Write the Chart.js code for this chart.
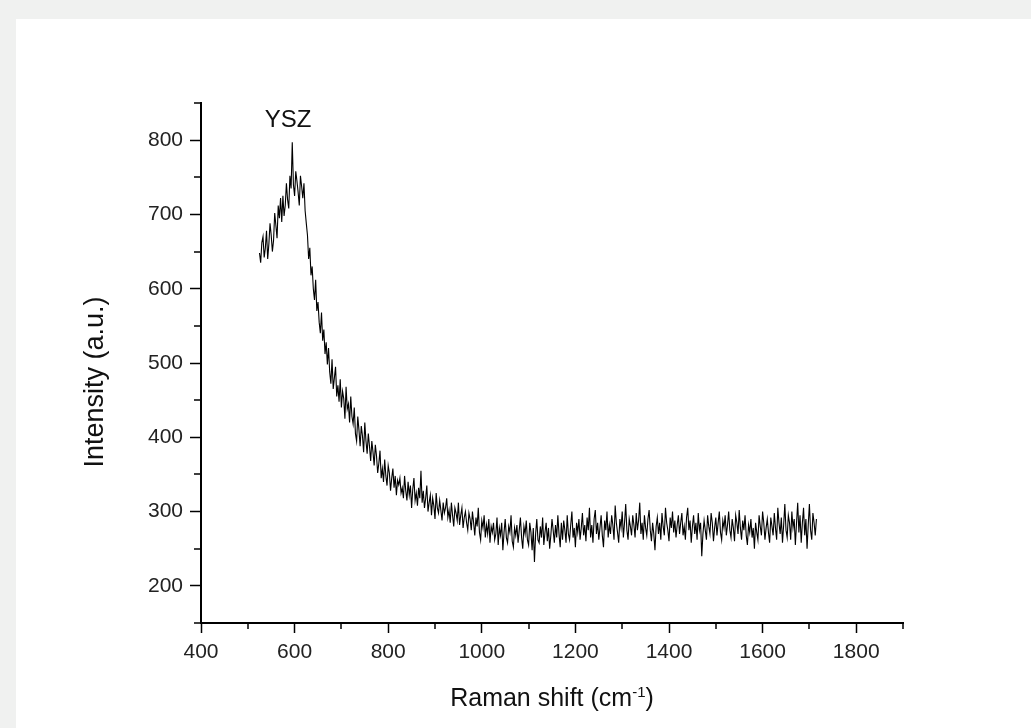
<!DOCTYPE html>
<html>
<head>
<meta charset="utf-8">
<script src="https://cdn.jsdelivr.net/npm/chart.js@4.4.1/dist/chart.umd.min.js"></script>
<style>
  html, body { margin: 0; padding: 0; background: #f0f1f0; overflow: hidden; }
  #panel { position: absolute; left: 16px; top: 19px; width: 1015px; height: 709px; background: #fff; }
  #chart { position: absolute; left: 0; top: 0; }
</style>
</head>
<body>
<div id="panel"></div>
<canvas id="chart" width="1031" height="728"></canvas>
<script>
// spectrum sampled every 2.5 cm-1 from 525 to 1715
const shiftStart = 525;
const shiftStep = 2.5;

// intensity (a.u.), one row per 50 cm-1
const intensity = [
  648, 635, 662, 670, 642, 655, 678, 640, 660, 688, 672, 650, 665, 702, 685, 668, 712, 695, 722, 690,
  725, 698, 712, 742, 720, 708, 752, 735, 797, 740, 725, 758, 745, 730, 712, 752, 738, 722, 742, 705,
  688, 672, 640, 655, 618, 630, 600, 585, 612, 570, 582, 555, 540, 568, 530, 545, 512, 528, 498, 520,
  488, 472, 505, 465, 480, 495, 455, 470, 448, 478, 440, 462, 452, 425, 468, 438, 445, 420, 455, 428,
  418, 440, 405, 395, 428, 410, 388, 415, 402, 380, 420, 395, 378, 405, 388, 368, 395, 380, 362, 390,
  375, 352, 365, 382, 345, 358, 340, 370, 348, 335, 362, 352, 328, 345, 358, 332, 348, 322, 342, 336,
  345, 325, 332, 318, 348, 328, 315, 340, 322, 335, 305, 330, 345, 315, 325, 308, 332, 318, 355, 312,
  328, 305, 318, 335, 300, 312, 322, 295, 318, 308, 290, 325, 305, 298, 315, 302, 288, 312, 298, 305,
  318, 292, 302, 285, 312, 295, 280, 305, 298, 288, 312, 282, 295, 305, 278, 292, 300, 285, 275, 298,
  290, 275, 300, 285, 268, 292, 280, 305, 272, 262, 288, 278, 295, 265, 282, 270, 290, 258, 280, 272,
  285, 262, 270, 292, 255, 278, 268, 285, 248, 272, 290, 265, 258, 280, 272, 295, 260, 252, 278, 268,
  282, 258, 275, 292, 265, 250, 280, 270, 288, 262, 255, 285, 272, 248, 278, 232, 270, 290, 262, 258,
  280, 265, 292, 255, 272, 285, 260, 278, 250, 268, 290, 275, 258, 282, 265, 295, 270, 252, 285, 262,
  288, 275, 258, 295, 270, 262, 282, 300, 265, 278, 252, 285, 272, 290, 262, 278, 298, 268, 282, 260,
  292, 275, 305, 265, 282, 258, 290, 302, 270, 285, 262, 278, 295, 268, 252, 288, 275, 300, 265, 282,
  270, 295, 282, 262, 308, 285, 272, 258, 290, 278, 300, 265, 285, 310, 275, 262, 290, 280, 268, 295,
  282, 265, 298, 275, 288, 312, 270, 285, 262, 295, 278, 268, 290, 302, 275, 260, 285, 270, 248, 280,
  292, 270, 285, 262, 298, 280, 268, 305, 285, 275, 260, 292, 278, 300, 272, 288, 265, 282, 295, 270,
  285, 298, 268, 280, 262, 292, 305, 275, 288, 258, 280, 295, 270, 285, 262, 298, 275, 285, 240, 270,
  288, 275, 262, 295, 280, 270, 298, 285, 260, 278, 292, 268, 285, 300, 272, 262, 288, 278, 295, 268,
  282, 300, 275, 265, 290, 278, 260, 295, 285, 270, 302, 278, 262, 288, 275, 295, 268, 255, 282, 272,
  290, 265, 278, 250, 285, 272, 262, 295, 280, 268, 300, 285, 262, 278, 290, 272, 258, 292, 280, 268,
  298, 278, 262, 305, 285, 270, 292, 258, 282, 310, 275, 265, 295, 285, 262, 300, 278, 290, 255, 285,
  312, 272, 295, 258, 285, 305, 268, 290, 250, 282, 310, 275, 262, 298, 285, 268, 290
];
const ramanShift = intensity.map((_, i) => shiftStart + shiftStep * i);

const xRange = [400, 1900];
const yRange = [150, 850];
const peakLabel = 'YSZ';
const xTitle = 'Raman shift (cm';
const xTitleSup = '-1';
const yTitle = 'Intensity (a.u.)';

const FONT = '"Liberation Sans", Arial, sans-serif';

// minor ticks, axis titles and the peak label
const extras = {
  id: 'extras',
  afterDraw(chart) {
    const ctx = chart.ctx;
    const xs = chart.scales.x, ys = chart.scales.y;
    ctx.save();
    ctx.strokeStyle = '#000';
    ctx.lineWidth = 1.5;
    ctx.beginPath();
    xs.ticks.forEach(t => {
      if (t.value % 200 !== 0) {
        const p = Math.round(xs.getPixelForValue(t.value));
        ctx.moveTo(p, xs.top); ctx.lineTo(p, xs.top + 6);
      }
    });
    ys.ticks.forEach(t => {
      if (t.value % 100 !== 0) {
        const p = Math.round(ys.getPixelForValue(t.value));
        ctx.moveTo(ys.right, p); ctx.lineTo(ys.right - 7, p);
      }
    });
    ctx.stroke();

    ctx.fillStyle = '#111';
    ctx.textBaseline = 'alphabetic';

    // x title with superscript
    ctx.font = '25px ' + FONT;
    const w1 = ctx.measureText(xTitle).width;
    const w3 = ctx.measureText(')').width;
    ctx.font = '15px ' + FONT;
    const w2 = ctx.measureText(xTitleSup).width;
    const cx = (xs.left + xs.right) / 2;
    let x0 = cx - (w1 + w2 + w3) / 2;
    ctx.font = '25px ' + FONT;
    ctx.textAlign = 'left';
    ctx.fillText(xTitle, x0, 706);
    ctx.font = '15px ' + FONT;
    ctx.fillText(xTitleSup, x0 + w1, 697);
    ctx.font = '25px ' + FONT;
    ctx.fillText(')', x0 + w1 + w2, 706);

    // y title
    ctx.save();
    ctx.translate(103, 382);
    ctx.rotate(-Math.PI / 2);
    ctx.font = '27px ' + FONT;
    ctx.textAlign = 'center';
    ctx.fillText(yTitle, 0, 0);
    ctx.restore();

    // peak label
    ctx.font = '24px ' + FONT;
    ctx.textAlign = 'center';
    ctx.fillText(peakLabel, 288, 127);
    ctx.restore();
  }
};

new Chart(document.getElementById('chart'), {
  type: 'line',
  data: {
    datasets: [{
      data: ramanShift.map((x, i) => ({ x: x, y: intensity[i] })),
      borderColor: '#000',
      borderWidth: 1.1,
      pointRadius: 0,
      tension: 0,
      fill: false
    }]
  },
  options: {
    responsive: false,
    animation: false,
    layout: { padding: { left: 0, top: 103, right: 128, bottom: 0 } },
    plugins: { legend: { display: false }, tooltip: { enabled: false } },
    scales: {
      x: {
        type: 'linear',
        min: xRange[0], max: xRange[1],
        afterFit(s) { s.height = 105; },
        border: { display: true, color: '#000', width: 2 },
        grid: {
          drawOnChartArea: false,
          tickLength: 10,
          tickWidth: 1.5,
          tickColor: c => (c.tick && c.tick.value % 200 === 0) ? '#000' : 'rgba(0,0,0,0)'
        },
        ticks: {
          stepSize: 100,
          autoSkip: false,
          maxRotation: 0,
          padding: 7,
          color: '#222',
          font: { family: FONT, size: 21 },
          callback: v => v % 200 === 0 ? v : ''
        }
      },
      y: {
        min: yRange[0], max: yRange[1],
        afterFit(s) { s.width = 201; },
        border: { display: true, color: '#000', width: 2 },
        grid: {
          drawOnChartArea: false,
          tickLength: 11,
          tickWidth: 1.5,
          tickColor: c => (c.tick && c.tick.value % 100 === 0) ? '#000' : 'rgba(0,0,0,0)'
        },
        ticks: {
          stepSize: 50,
          autoSkip: false,
          padding: 7,
          color: '#222',
          font: { family: FONT, size: 21 },
          callback: v => v % 100 === 0 ? v : ''
        }
      }
    }
  },
  plugins: [extras]
});
</script>
</body>
</html>
